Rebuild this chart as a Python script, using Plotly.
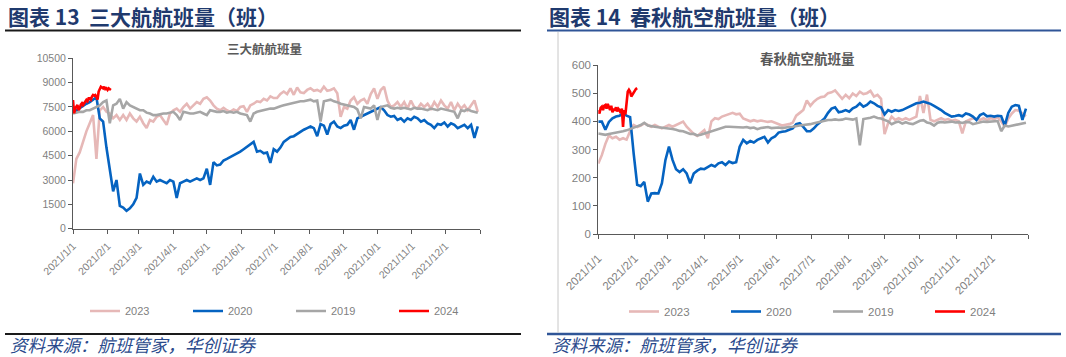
import pandas as pd
import plotly.graph_objects as go

W, H = 1066, 357

# ---------------- data ----------------
# full-year series sampled every 3 days starting 2021-01-01 (calendar aligned to 2021 axis)
L_2023 = [2800, 4300, 4700, 5400, 6000, 6500, 7000, 4300, 7300, 7500,
          7200, 7100, 6800, 7000, 6700, 7000, 6700, 7100, 6800, 6600,
          6900, 6500, 6200, 6700, 6600, 6900, 7000, 6700, 6400, 7100,
          7300, 7400, 7200, 7500, 7700, 7400, 7600, 7800, 7700, 8000,
          8100, 7900, 7600, 7400, 7300, 7450, 7300, 7200, 7350, 7250,
          7500, 7550, 7200, 7600, 7700, 7850, 7800, 8000, 7900, 8150,
          8050, 8050, 8300, 8450, 8300, 8650, 8250, 8700, 8400, 8350,
          8550, 8650, 8500, 8550, 8450, 8750, 8500, 8550, 8650, 8350,
          6900, 7500, 7400, 7900, 8100, 7700, 7900, 8000, 7700, 8300,
          8650, 8000, 8550, 8750, 7900, 7500, 7600, 7800, 7500, 7800,
          7400, 7900, 7500, 7400, 7700, 7500, 7700, 7400, 7800, 7500,
          7900, 7600, 7400, 7800, 7300, 7700, 7400, 7600, 7300, 7600,
          7900, 7200]
L_2020 = [7150, 7300, 7450, 7550, 7700, 7800, 7950, 8100, 6800, 6600,
          5000, 3500, 2300, 3000, 1400, 1300, 1100, 1250, 1500, 1900,
          3400, 2700, 2900, 2800, 3200, 2900, 3000, 2900, 2800, 3000,
          2900, 1900, 2800, 2900, 3000, 2900, 3000, 3100, 3000, 3100,
          3700, 2700, 4100, 3900, 3950, 4200, 4300, 4400, 4500, 4600,
          4750, 4900, 5050, 5200, 5350, 4750, 4800, 4650, 4700, 4050,
          4900, 4750, 5000, 5350, 5500, 5650, 5700, 5850, 6000, 6100,
          6200, 6300, 6200, 5700, 6450, 6350, 5800, 6450, 6600, 6300,
          6200, 6350, 6400, 6700, 6100, 6800, 6900, 7000, 7100, 7200,
          7350, 7450, 7500, 7300, 7000, 6900, 6950, 6700, 6800, 6600,
          6800, 6700, 6900, 6800, 6600, 6700, 6500, 6400, 6200, 6450,
          6400, 6550, 6300, 6500, 6400, 6200, 6300, 6400, 6200, 6400,
          5600, 6300]
L_2019 = [7100, 7150, 7200, 7200, 7300, 7300, 7400, 7500, 7600, 7800,
          7900, 6500, 7600, 7700, 8000, 7400, 7800, 7600, 7500, 7400,
          7300, 7300, 7150, 7100, 7000, 7000, 7050, 7100, 7100, 7150,
          7200, 7000, 6700, 7200, 7150, 7100, 7100, 7150, 7200, 7100,
          7000, 7300, 7250, 7200, 7200, 7250, 7150, 7200, 7150, 7200,
          7100, 7050, 7000, 6600, 7100, 7200, 7250, 7300, 7350, 7400,
          7400, 7500, 7550, 7600, 7650, 7700, 7750, 7800, 7850, 7850,
          7900, 7950, 7850, 7900, 6600, 7850, 7900, 7950, 7850, 7800,
          7700, 7650, 7600, 7550, 7500, 7350, 6800, 7500, 7450, 7400,
          7600, 6700, 7500, 7550, 7600, 7450, 7400, 7450, 7400, 7450,
          7400, 7350, 7450, 7400, 7400, 7350, 7300, 7400, 7350, 7300,
          7400, 7350, 7300, 7250, 7200, 6800, 7300, 7250, 7350, 7250,
          7200, 7150]
# 2024 series, daily from 2021-01-01 position
L_2024 = [7930, 7110, 7400, 7500, 7620, 7300, 7420, 7650, 7730, 7620,
          7750, 7830, 7930, 7850, 8030, 8030, 7950, 8140, 8240, 8200,
          8240, 8130, 7950, 8450, 8650, 8750, 8700, 8650, 8750, 8600,
          8650, 8550, 8650, 8600, 8550]

R_2023 = [250, 280, 320, 350, 340, 345, 335, 340, 335, 365,
          387, 380, 385, 393, 387, 381, 387, 381, 375, 381,
          387, 381, 387, 393, 399, 381, 369, 355, 348, 360,
          369, 340, 400, 411, 408, 417, 422, 425, 430, 425,
          427, 410, 405, 400, 404, 400, 403, 400, 398, 400,
          395, 390, 385, 388, 390, 395, 420, 430, 440, 474,
          455, 470, 480, 486, 488, 500, 503, 510, 495, 480,
          494, 482, 499, 490, 505, 497, 500, 508, 488, 494,
          480, 355, 393, 417, 405, 411, 405, 411, 405, 411,
          417, 490, 430, 495, 405, 400, 405, 411, 405, 408,
          402, 405, 400, 357, 400, 405, 411, 408, 405, 411,
          405, 411, 408, 414, 400, 381, 410, 428, 440, 438,
          428, 418]
R_2020 = [399, 399, 370, 398, 411, 417, 420, 430, 420, 415,
          286, 175, 170, 185, 115, 144, 145, 144, 180, 263,
          310, 263, 230, 220, 230, 215, 180, 215, 225, 232,
          230, 238, 245, 240, 251, 255, 245, 257, 252, 255,
          310, 334, 322, 330, 325, 334, 340, 345, 325, 340,
          346, 360, 363, 365, 370, 375, 390, 393, 380, 365,
          365, 375, 389, 398, 410, 430, 445, 450, 432, 435,
          440, 434, 446, 452, 464, 452, 458, 470, 464, 455,
          450, 425, 440, 434, 440, 437, 440, 446, 452, 458,
          464, 466, 470, 466, 462, 455, 448, 440, 430, 422,
          417, 419, 422, 418, 428, 424, 417, 405, 422, 428,
          418, 420, 417, 420, 418, 385, 430, 452, 458, 455,
          405, 445]
R_2019 = [357, 355, 352, 355, 357, 360, 363, 365, 368, 372,
          378, 382, 387, 395, 385, 382, 381, 379, 378, 375,
          376, 373, 370, 366, 365, 360, 355, 356, 350, 352,
          356, 360, 366, 370, 374, 378, 381, 381, 380, 381,
          380, 378, 380, 376, 378, 372, 376, 378, 380, 376,
          377, 378, 376, 379, 380, 381, 382, 385, 387, 388,
          390, 393, 396, 399, 402, 405, 405, 407, 405, 406,
          410, 408, 406, 410, 315, 408, 410, 413, 417, 412,
          410, 405, 400, 390, 396, 399, 392, 397, 392, 390,
          395, 402, 404, 396, 393, 385, 395, 398, 396, 398,
          399, 396, 397, 394, 398, 397, 390, 393, 396, 399,
          398, 399, 398, 401, 365, 385, 382, 385, 388, 390,
          392, 395]
R_2024 = [440, 428, 448, 452, 440, 455, 458, 445, 462, 448,
          440, 455, 432, 445, 438, 450, 435, 445, 440, 430,
          445, 380, 440, 425, 465, 505, 512, 505, 488, 495,
          505, 512, 515, 518]

SERIES_NAMES = ["2023", "2020", "2019", "2024"]
SERIES_COLORS = ["#E6B8B7", "#0563C1", "#A6A6A6", "#FF0000"]
TICK_DATES = list(pd.date_range("2021-01-01", periods=13, freq="MS"))
TICK_LABELS = ["2021/1/1", "2021/2/1", "2021/3/1", "2021/4/1", "2021/5/1", "2021/6/1",
               "2021/7/1", "2021/8/1", "2021/9/1", "2021/10/1", "2021/11/1", "2021/12/1", ""]


def dates3(vals):
    return pd.date_range("2021-01-01", periods=len(vals), freq="3D")


def dates1(vals):
    return pd.date_range("2021-01-01", periods=len(vals), freq="D")


def px(x):
    return x / W


def py(y):
    return 1 - y / H


fig = go.Figure()

left = [L_2023, L_2020, L_2019, L_2024]
right = [R_2023, R_2020, R_2019, R_2024]
for i, (name, col) in enumerate(zip(SERIES_NAMES, SERIES_COLORS)):
    vals = left[i]
    xs = dates1(vals) if name == "2024" else dates3(vals)
    fig.add_trace(go.Scatter(x=xs, y=vals, mode="lines", name=name,
                             line=dict(color=col, width=2.6), xaxis="x", yaxis="y",
                             legend="legend", hoverinfo="skip"))
for i, (name, col) in enumerate(zip(SERIES_NAMES, SERIES_COLORS)):
    vals = right[i]
    xs = dates1(vals) if name == "2024" else dates3(vals)
    fig.add_trace(go.Scatter(x=xs, y=vals, mode="lines", name=name,
                             line=dict(color=col, width=2.6), xaxis="x2", yaxis="y2",
                             legend="legend2", hoverinfo="skip"))

AX = "#595959"
TXT = "#7F7F7F"
FONT = "Liberation Sans, Arial, sans-serif"
CJK = "Noto Sans CJK SC"


def xaxis(domain, anchor, size, standoff):
    return dict(domain=domain, anchor=anchor, type="date",
                range=["2021-01-01", "2022-01-01"],
                tickmode="array", tickvals=TICK_DATES, ticktext=TICK_LABELS,
                tickangle=-45, ticks="outside", ticklen=4, tickcolor=AX,
                ticklabelstandoff=standoff,
                showline=True, linecolor=AX, linewidth=1, showgrid=False,
                zeroline=False, tickfont=dict(family=FONT, size=size, color=TXT),
                fixedrange=True, automargin=False)


def yaxis(domain, anchor, rng, dtick, size):
    return dict(domain=domain, anchor=anchor, range=rng, dtick=dtick, tick0=0,
                tickformat="d", ticks="outside", ticklen=4, tickcolor=AX, showline=True,
                linecolor=AX, linewidth=1, showgrid=False, zeroline=False,
                tickfont=dict(family=FONT, size=size, color=TXT), fixedrange=True,
                automargin=False)


legend_common = dict(orientation="h", xanchor="left", yanchor="middle",
                     bgcolor="rgba(0,0,0,0)", borderwidth=0, itemwidth=30,
                     entrywidthmode="pixels", traceorder="normal",
                     itemclick=False, itemdoubleclick=False)

NAVY = "#1F3A6E"
SRC = "#2A4A8C"

annotations = [
    dict(text="图表 13  三大航航班量（班）", x=px(6), y=py(16), xref="paper", yref="paper",
         xanchor="left", yanchor="middle", showarrow=False,
         font=dict(family=CJK, size=21, color=NAVY, weight=700)),
    dict(text="图表 14  春秋航空航班量（班）", x=px(547), y=py(16), xref="paper", yref="paper",
         xanchor="left", yanchor="middle", showarrow=False,
         font=dict(family=CJK, size=21, color=NAVY, weight=700)),
    dict(text="三大航航班量", x=px(264), y=py(49), xref="paper", yref="paper",
         xanchor="center", yanchor="middle", showarrow=False,
         font=dict(family=CJK, size=12.5, color="#595959", weight=700)),
    dict(text="春秋航空航班量", x=px(807), y=py(58), xref="paper", yref="paper",
         xanchor="center", yanchor="middle", showarrow=False,
         font=dict(family=CJK, size=13.5, color="#595959", weight=700)),
    dict(text="资料来源：航班管家，华创证券", x=px(8), y=py(344), xref="paper", yref="paper",
         xanchor="left", yanchor="middle", showarrow=False,
         font=dict(family=CJK, size=17.5, color=SRC, style="italic")),
    dict(text="资料来源：航班管家，华创证券", x=px(550), y=py(344.5), xref="paper", yref="paper",
         xanchor="left", yanchor="middle", showarrow=False,
         font=dict(family=CJK, size=17.5, color=SRC, style="italic")),
]

shapes = [
    dict(type="line", xref="paper", yref="paper", x0=px(5), x1=px(521), y0=py(30.5), y1=py(30.5),
         line=dict(color="#1A1A1A", width=2)),
    dict(type="line", xref="paper", yref="paper", x0=px(5), x1=px(521), y0=py(334), y1=py(334),
         line=dict(color="#1A1A1A", width=2)),
    dict(type="line", xref="paper", yref="paper", x0=px(547), x1=px(1061), y0=py(30.5), y1=py(30.5),
         line=dict(color="#2F5597", width=2)),
    dict(type="line", xref="paper", yref="paper", x0=px(547), x1=px(1061), y0=py(334), y1=py(334),
         line=dict(color="#2F5597", width=2.5)),
    dict(type="line", xref="paper", yref="paper", x0=px(558), x1=px(558), y0=py(32), y1=py(333),
         line=dict(color="#C8C8C8", width=1)),
]

fig.update_layout(
    width=W, height=H, autosize=False,
    margin=dict(l=0, r=0, t=0, b=0, autoexpand=False),
    paper_bgcolor="white", plot_bgcolor="white",
    xaxis=xaxis([px(73), px(480)], "y", 10.5, 2),
    yaxis=yaxis([py(228.7), py(58.3)], "x", [0, 10500], 1500, 10.5),
    xaxis2=xaxis([px(598.3), px(1028.3)], "y2", 11.5, 8),
    yaxis2=yaxis([py(234), py(65)], "x2", [0, 600], 100, 11.5),
    legend=dict(**legend_common, x=px(85), y=py(311), entrywidth=58,
                font=dict(family=FONT, size=11, color=TXT)),
    legend2=dict(**legend_common, x=px(624), y=py(311.5), entrywidth=57,
                 font=dict(family=FONT, size=11.5, color=TXT)),
    annotations=annotations,
    shapes=shapes,
    hovermode=False,
)

fig.write_html("out.html", config={"displayModeBar": False, "staticPlot": True},
               post_script="document.body.style.margin='0';document.body.style.overflow='hidden';")
